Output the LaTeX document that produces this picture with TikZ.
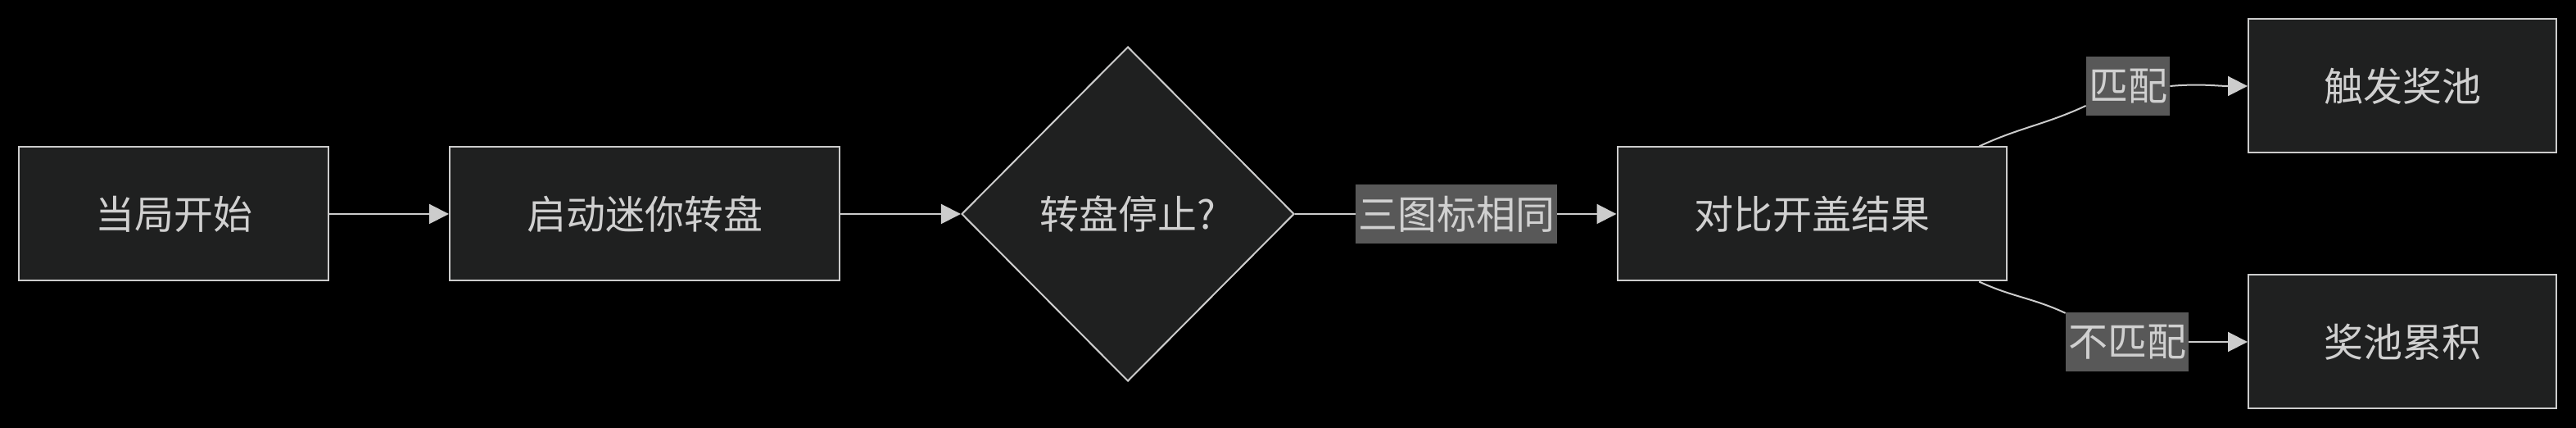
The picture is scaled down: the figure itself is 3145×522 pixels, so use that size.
\documentclass[tikz,border=0pt]{standalone}
\usepackage{fontspec}
\newfontfamily\cjk{Noto Sans CJK SC}
\usetikzlibrary{shapes.geometric,arrows.meta}
\definecolor{bgblack}{HTML}{000000}
\definecolor{boxfill}{HTML}{1F2020}
\definecolor{boxline}{HTML}{CCCCCC}
\definecolor{tagfill}{HTML}{585858}
\definecolor{inktext}{HTML}{D0D0D0}
\begin{document}
\begin{tikzpicture}[x=0.5pt,y=-0.5pt,
    every node/.style={font=\cjk\fontsize{24}{28}\selectfont, text=inktext},
    box/.style={draw=boxline, fill=boxfill, line width=1pt, minimum height=81.5pt, inner sep=0pt},
    decide/.style={diamond, draw=boxline, fill=boxfill, line width=1pt, aspect=1,
      minimum width=203pt, minimum height=204pt, inner sep=0pt},
    tag/.style={fill=tagfill, inner xsep=1.5pt, inner ysep=0pt, minimum height=36pt},
    link/.style={draw=boxline, line width=1pt},
    flow/.style={link, -{Triangle[length=12pt,width=12pt]}}]
      \path[fill=bgblack, use as bounding box] (0,0) rectangle (3145,522);
      \node[box, minimum width=189pt] (start) at (212,261) {当局开始};
      \node[box, minimum width=238pt] (spin) at (787,261) {启动迷你转盘};
      \node[decide] (stop) at (1377,261) {转盘停止?};
      \node[tag] (same) at (1778,261) {三图标相同};
      \node[box, minimum width=237.5pt] (compare) at (2212,261) {对比开盖结果};
      \node[tag] (match) at (2598,105) {匹配};
      \node[tag] (nomatch) at (2597,417) {不匹配};
      \node[box, minimum width=188pt] (trigger) at (2933,105) {触发奖池};
      \node[box, minimum width=188pt] (accum) at (2933,417) {奖池累积};
      \begin{scope}[link]
        \draw (stop) -- (same);
        \draw (compare.22) to[out=25,in=205] (match);
        \draw (compare.-22) to[out=-25,in=155] (nomatch);
      \end{scope}
      \begin{scope}[flow]
        \draw (start) -- (spin);
        \draw (spin) -- (stop);
        \draw (same) -- (compare);
        \draw (match.east) to[out=5,in=180] (trigger.west);
        \draw (nomatch.east) -- (accum.west);
      \end{scope}
    \end{tikzpicture}
\end{document}
